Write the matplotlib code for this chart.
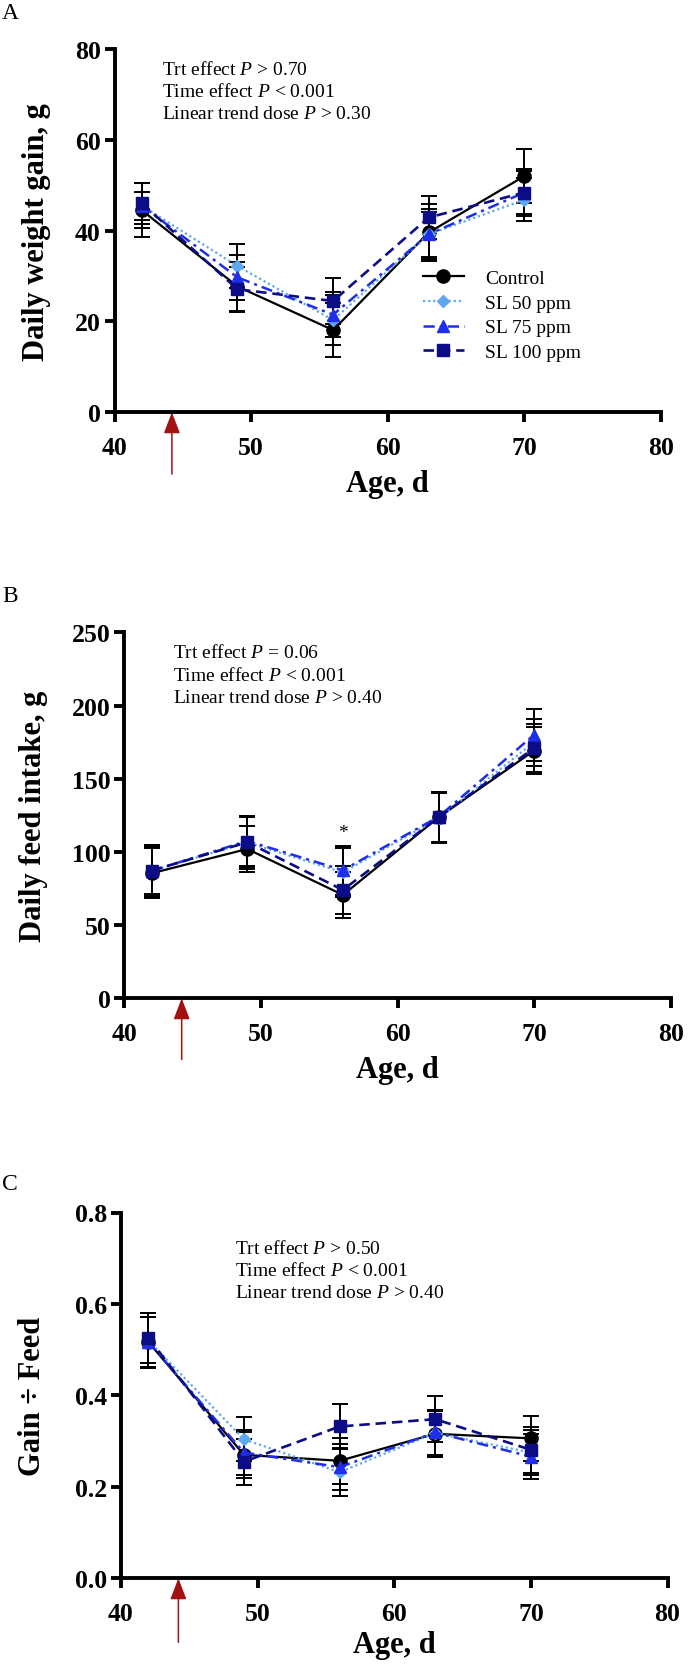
import matplotlib
matplotlib.use("Agg")
import matplotlib.pyplot as plt
import numpy as np

plt.rcParams['font.family'] = ['Liberation Serif', 'DejaVu Serif']
plt.rcParams['mathtext.fontset'] = 'custom'
plt.rcParams['mathtext.rm'] = 'Liberation Serif'
plt.rcParams['mathtext.it'] = 'Liberation Serif:italic'
plt.rcParams['mathtext.bf'] = 'Liberation Serif:bold'

# ---------------- data ----------------
age = [42, 49, 56, 63, 70]
series_names = ["Control", "SL 50 ppm", "SL 75 ppm", "SL 100 ppm"]

# Panel A: daily weight gain, g
ctrl_A = [44.5, 27.7, 18.1, 39.6, 52.0]
sl50_A = [45.5, 32.2, 20.3, 39.2, 46.8]
sl75_A = [45.5, 29.7, 21.5, 39.2, 48.4]
sl100_A = [46.0, 27.1, 24.5, 42.9, 48.4]
ctrl_A_err = [6.0, 5.5, 5.9, 6.2, 6.0]
sl50_A_err = [5.0, 4.9, 5.5, 5.0, 4.7]
sl75_A_err = [3.1, 5.0, 5.0, 5.5, 4.8]
sl100_A_err = [4.5, 5.0, 5.1, 4.7, 5.1]

# Panel B: daily feed intake, g
ctrl_B = [85.4, 102.0, 70.6, 123.6, 169.2]
sl50_B = [87.0, 106.5, 86.0, 123.0, 175.0]
sl75_B = [87.0, 107.5, 87.5, 124.0, 180.0]
sl100_B = [87.2, 106.6, 74.0, 123.6, 171.0]
ctrl_B_err = [17.0, 16.0, 16.0, 17.0, 16.0]
sl50_B_err = [17.0, 17.0, 17.0, 17.0, 16.0]
sl75_B_err = [18.0, 17.0, 16.8, 17.0, 17.6]
sl100_B_err = [16.0, 18.0, 16.6, 17.0, 16.4]

# Panel C: gain / feed
ctrl_C = [0.517, 0.270, 0.257, 0.316, 0.306]
sl50_C = [0.520, 0.304, 0.232, 0.318, 0.275]
sl75_C = [0.517, 0.275, 0.243, 0.319, 0.266]
sl100_C = [0.526, 0.255, 0.332, 0.348, 0.281]
ctrl_C_err = [0.055, 0.050, 0.050, 0.050, 0.049]
sl50_C_err = [0.060, 0.048, 0.053, 0.050, 0.050]
sl75_C_err = [0.055, 0.050, 0.050, 0.050, 0.049]
sl100_C_err = [0.055, 0.050, 0.050, 0.050, 0.050]

x_ticks = [40, 50, 60, 70, 80]
yticks_A = [0, 20, 40, 60, 80]
yticks_B = [0, 50, 100, 150, 200, 250]
yticks_C = [0.0, 0.2, 0.4, 0.6, 0.8]

stats_A = ["Trt effect $P$ > 0.70", "Time effect $P$ < 0.001", "Linear trend dose $P$ > 0.30"]
stats_B = ["Trt effect $P$ = 0.06", "Time effect $P$ < 0.001", "Linear trend dose $P$ > 0.40"]
stats_C = ["Trt effect $P$ > 0.50", "Time effect $P$ < 0.001", "Linear trend dose $P$ > 0.40"]

treatment_day = 44.2

# ---------------- styles ----------------
styles = [
    dict(color='black', marker='o', ms=9.5, ls='-', lw=1.6),
    dict(color='#5ea8f2', marker='D', ms=6.5, ls=(0, (1.0, 1.3)), lw=1.6),
    dict(color='#1f2ee8', marker='^', ms=9, ls=(0, (4.5, 2.0, 1.2, 2.0)), lw=1.8),
    dict(color='#0c0c86', marker='s', ms=9, ls=(0, (4.0, 2.2)), lw=1.9),
]

W, H = 688, 1665
fig = plt.figure(figsize=(W / 100, H / 100), dpi=100)

def axes_px(left, top, right, bottom):
    ax = fig.add_axes([left / W, 1 - bottom / H, (right - left) / W, (bottom - top) / H])
    ax._px = (left, top, right, bottom)
    return ax

def panel(ax, ys, errs, ylim, yticks, yfmt, ylabel, stats, stats_x, stats_y,
          arrow_len, ylabel_right_px, xlabel_off_px=57.0):
    left, top, right, bottom = ax._px
    wpx, hpx = right - left, bottom - top
    for y, e, st in zip(ys, errs, styles):
        ax.errorbar(age, y, yerr=e, fmt='none', ecolor='black', elinewidth=1.4,
                    capsize=5.5, capthick=1.4, zorder=2, clip_on=False)
    lines = []
    for y, st, name in zip(ys, styles, series_names):
        ln, = ax.plot(age, y, color=st['color'], marker=st['marker'], ms=st['ms'],
                      ls=st['ls'], lw=st['lw'], mec=st['color'], mfc=st['color'],
                      zorder=3, label=name, clip_on=False)
        lines.append(ln)
    ax.set_xlim(40, 80)
    ax.set_ylim(*ylim)
    ax.set_xticks(x_ticks)
    ax.set_yticks(yticks)
    ax.set_yticklabels([yfmt.format(v) for v in yticks])
    for s in ['top', 'right']:
        ax.spines[s].set_visible(False)
    for s in ['left', 'bottom']:
        ax.spines[s].set_linewidth(2.8)
    ax.tick_params(axis='both', direction='out', length=7, width=2.8, labelsize=18.5)
    ax.tick_params(axis='x', pad=10.0)
    ax.tick_params(axis='y', pad=3)
    for lab in ax.get_xticklabels() + ax.get_yticklabels():
        lab.set_fontweight('bold')
    ax.set_xlabel("Age, d", fontsize=22, fontweight='bold')
    ax.xaxis.set_label_coords(0.5, -xlabel_off_px / hpx)
    ax.set_ylabel(ylabel, fontsize=22, fontweight='bold')
    ax.yaxis.set_label_coords((ylabel_right_px - left) / wpx, 0.5)
    for s, yy in zip(stats, stats_y):
        ax.text(stats_x, yy, s, fontsize=14, ha='left', va='center')
    ax.annotate('', xy=(treatment_day, 0), xycoords=('data', 'axes fraction'),
                xytext=(treatment_day, -arrow_len), textcoords=('data', 'axes fraction'),
                arrowprops=dict(arrowstyle='-|>,head_length=1.3,head_width=0.5',
                                mutation_scale=10, color='#a31010', lw=1.1,
                                shrinkA=0, shrinkB=0), annotation_clip=False)
    return lines

# Panel A
axA = axes_px(114.5, 50, 661, 413.3)
linesA = panel(axA, [ctrl_A, sl50_A, sl75_A, sl100_A],
               [ctrl_A_err, sl50_A_err, sl75_A_err, sl100_A_err],
               (0, 80), yticks_A, "{:g}", "Daily weight gain, g",
               stats_A, 43.5, [75.7, 70.7, 65.7], 0.17, 51)
axA.legend(handles=linesA, loc='upper left', bbox_to_anchor=(0.5645, 0.394),
           frameon=False, fontsize=14, handlelength=2.1, handletextpad=1.1,
           labelspacing=0.37, borderpad=0, borderaxespad=0)

# Panel B
axB = axes_px(124.3, 633.3, 670.8, 999.3)
panel(axB, [ctrl_B, sl50_B, sl75_B, sl100_B],
      [ctrl_B_err, sl50_B_err, sl75_B_err, sl100_B_err],
      (0, 250), yticks_B, "{:g}", "Daily feed intake, g",
      stats_B, 43.6, [236.3, 221.1, 205.6], 0.167, 48)
axB.text(56, 113, "*", fontsize=14, ha='center', va='center')

# Panel C
axC = axes_px(121, 1213.5, 667.5, 1579.3)
panel(axC, [ctrl_C, sl50_C, sl75_C, sl100_C],
      [ctrl_C_err, sl50_C_err, sl75_C_err, sl100_C_err],
      (0, 0.8), yticks_C, "{:.1f}", "Gain \u00f7 Feed",
      stats_C, 48.35, [0.722, 0.675, 0.626], 0.175, 47, xlabel_off_px=52.0)

# panel letters
fig.text(2 / W, 1 - 3 / H, "A", fontsize=17, ha='left', va='top')
fig.text(2 / W, 1 - 586 / H, "B", fontsize=17, ha='left', va='top')
fig.text(2 / W, 1 - 1174 / H, "C", fontsize=17, ha='left', va='top')

fig.savefig("out.png", dpi=100)
